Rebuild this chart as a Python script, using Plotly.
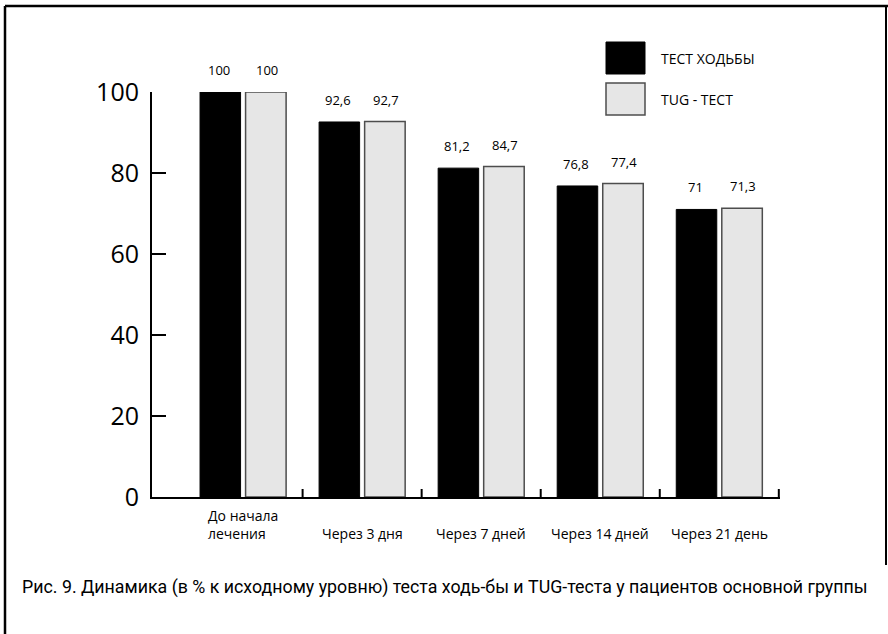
import plotly.graph_objects as go

categories = ["До начала<br>лечения", "Через 3 дня", "Через 7 дней", "Через 14 дней", "Через 21 день"]
walk_values = [100, 92.6, 81.2, 76.8, 71]
tug_values = [100, 92.7, 81.6, 77.4, 71.3]
walk_labels = ["100", "92,6", "81,2", "76,8", "71"]
tug_labels = ["100", "92,7", "84,7", "77,4", "71,3"]
series_names = ["ТЕСТ ХОДЬБЫ", "TUG - ТЕСТ"]
y_ticks = [0, 20, 40, 60, 80, 100]
caption = "Рис. 9. Динамика (в % к исходному уровню) теста ходь-бы и TUG-теста у пациентов основной группы"

FONT = "Open Sans"
x_idx = list(range(len(categories)))

fig = go.Figure()
fig.add_trace(go.Bar(x=x_idx, y=walk_values, name=series_names[0],
                     marker=dict(color="#000000", line=dict(color="#000000", width=1)),
                     showlegend=False))
fig.add_trace(go.Bar(x=x_idx, y=tug_values, name=series_names[1],
                     marker=dict(color="#e6e6e6", line=dict(color="#4d4d4d", width=1.5)),
                     showlegend=False))

annotations = []
for i, (v, t) in enumerate(zip(walk_values, walk_labels)):
    annotations.append(dict(x=i, y=v, xref="x", yref="y", text=t, showarrow=False,
                            xshift=-24, yshift=11, yanchor="bottom",
                            font=dict(family=FONT, size=13, color="#000")))
for i, (v, t) in enumerate(zip(tug_values, tug_labels)):
    annotations.append(dict(x=i, y=v, xref="x", yref="y", text=t, showarrow=False,
                            xshift=24, yshift=11, yanchor="bottom",
                            font=dict(family=FONT, size=13, color="#000")))
for i, c in enumerate(categories):
    annotations.append(dict(x=i, y=-0.118, xref="x", yref="paper", text=c, showarrow=False,
                            yanchor="bottom", xanchor="center", align="left",
                            font=dict(family=FONT, size=14, color="#000")))

# legend (drawn manually)
W, H = 628.0, 405.0
def px(x):
    return (x - 152) / W
def py(y):
    return (497 - y) / H

annotations.append(dict(x=px(659), y=py(58), xref="paper", yref="paper", text=series_names[0],
                        showarrow=False, xanchor="left", yanchor="middle",
                        font=dict(family=FONT, size=14, color="#000")))
annotations.append(dict(x=px(659), y=py(100), xref="paper", yref="paper", text=series_names[1],
                        showarrow=False, xanchor="left", yanchor="middle",
                        font=dict(family=FONT, size=14, color="#000")))
annotations.append(dict(x=px(20), y=py(587), xref="paper", yref="paper", text=caption,
                        showarrow=False, xanchor="left", yanchor="middle",
                        font=dict(family="Roboto", size=17.8, color="#000")))

shapes = [
    dict(type="rect", xref="paper", yref="paper", x0=px(606), x1=px(645), y0=py(74), y1=py(42),
         fillcolor="#000", line=dict(color="#000", width=1)),
    dict(type="rect", xref="paper", yref="paper", x0=px(606), x1=px(645), y0=py(115), y1=py(83),
         fillcolor="#e6e6e6", line=dict(color="#4d4d4d", width=1.5)),
    # frame
    dict(type="line", xref="paper", yref="paper", x0=px(5), x1=px(890), y0=py(6), y1=py(6),
         line=dict(color="#000", width=2.5)),
    dict(type="line", xref="paper", yref="paper", x0=px(5), x1=px(5), y0=py(6), y1=py(640),
         line=dict(color="#000", width=2.5)),
    dict(type="line", xref="paper", yref="paper", x0=px(886), x1=px(886), y0=py(6), y1=py(565),
         line=dict(color="#000", width=2)),
]
# x-axis boundary ticks
for i in range(len(categories)):
    shapes.append(dict(type="line", xref="x", yref="paper", x0=i + 0.5, x1=i + 0.5,
                       y0=0, y1=8 / H, line=dict(color="#000", width=2)))

fig.update_layout(
    width=888, height=634,
    margin=dict(l=152, r=108, t=92, b=137),
    paper_bgcolor="white", plot_bgcolor="white",
    barmode="group", bargap=0.235, bargroupgap=0.11,
    font=dict(family=FONT, color="#000"),
    hovermode=False,
    xaxis=dict(range=[-0.765, 4.51], showline=True, linecolor="#000", linewidth=2,
               showticklabels=False, ticks="", showgrid=False, zeroline=False, fixedrange=True),
    yaxis=dict(range=[0, 100], tickvals=y_ticks, showline=True, linecolor="#000", linewidth=2,
               ticks="inside", ticklen=14, tickwidth=2, tickcolor="#000",
               tickfont=dict(family=FONT, size=25, color="#000"),
               showgrid=False, zeroline=False, ticklabelstandoff=6, fixedrange=True),
    annotations=annotations,
    shapes=shapes,
)

fig.write_html("out.html", config={"displayModeBar": False},
               post_script="document.body.style.margin='0';document.body.style.overflow='hidden';")
